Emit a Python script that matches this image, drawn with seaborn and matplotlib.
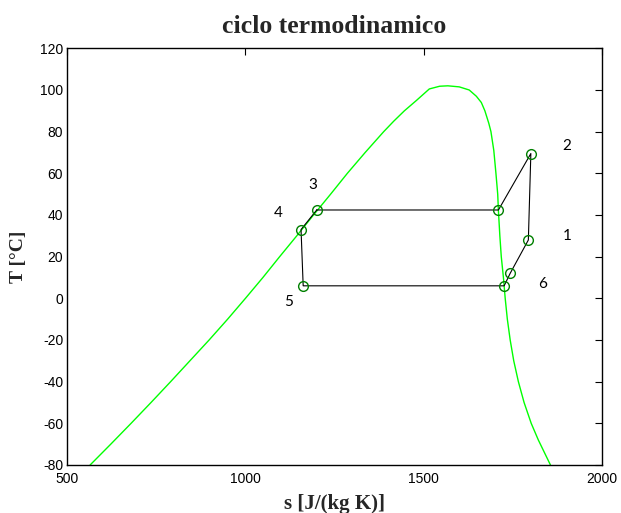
import matplotlib
matplotlib.use("Agg")
import matplotlib.pyplot as plt
import seaborn as sns

# saturation dome (R134a-like)
dome_s = [564, 622, 679, 735, 790, 844, 898, 950, 1000, 1049, 1096, 1144, 1191,
          1239, 1286, 1336, 1388, 1416, 1446, 1480, 1516, 1545, 1568, 1600, 1628,
          1648, 1662, 1672, 1683, 1689, 1697, 1703, 1708, 1710, 1714, 1718, 1724,
          1729, 1735, 1743, 1753, 1766, 1782, 1802, 1822, 1856]
dome_T = [-80, -70, -60, -50, -40, -30, -20, -10, 0, 10, 20, 30, 40,
          50, 60, 70, 80, 85, 90, 95, 100.5, 101.8, 102, 101.5, 100,
          97, 94, 90, 84, 80, 71, 60, 50, 42, 30, 20, 10,
          0, -10, -20, -30, -40, -50, -60, -68, -80]

# cycle points in drawing order (3 -> 3' -> 2 -> 1 -> 6 -> 5' -> 5 -> 4 -> 3)
cycle_s = [1200, 1710, 1801, 1794, 1743, 1726, 1162, 1156, 1200]
cycle_T = [42.4, 42.4, 69.5, 28, 12, 6, 6, 33, 42.4]

labels = ["1", "2", "3", "4", "5", "6"]
label_s = [1902, 1902, 1189, 1093, 1122, 1835]
label_T = [29.9, 73.1, 54.4, 41, -1.8, 6.9]

sns.set_style("white")
plt.rcParams["font.family"] = ["Liberation Sans", "DejaVu Sans"]
plt.rcParams["axes.unicode_minus"] = False

fig = plt.figure(figsize=(6.21, 5.13), dpi=100)
ax = fig.add_axes([0.1084, 0.0936, 0.8606, 0.8122])

sns.lineplot(x=dome_s, y=dome_T, sort=False, estimator=None, color="#00ff00",
             linewidth=1.0, ax=ax)
sns.lineplot(x=cycle_s, y=cycle_T, sort=False, estimator=None, color="black",
             linewidth=0.8, ax=ax)
ax.plot(cycle_s[:-1], cycle_T[:-1], linestyle="none", marker="o", markersize=7,
        markerfacecolor="none", markeredgecolor="#008000", markeredgewidth=1.0)

for lab, xs, yt in zip(labels, label_s, label_T):
    ax.text(xs, yt, lab, fontsize=11, family=["Lato", "DejaVu Sans"],
            ha="center", va="center", color="black")

ax.set_xlim(500, 2000)
ax.set_ylim(-80, 120)
ax.set_xticks([500, 1000, 1500, 2000])
ax.set_yticks(range(-80, 121, 20))
ax.tick_params(direction="in", length=5, width=0.8, top=True, right=True,
               labelsize=10, pad=3, colors="black")
ax.tick_params(axis="x", pad=5)
for sp in ax.spines.values():
    sp.set_visible(True)
    sp.set_color("black")
    sp.set_linewidth(1.0)

ax.set_title("ciclo termodinamico", fontsize=18.5, fontweight="bold",
             family=["Liberation Serif", "DejaVu Serif"], pad=11)
ax.set_xlabel("s [J/(kg K)]", fontsize=15, fontweight="bold",
              family=["Liberation Serif", "DejaVu Serif"], labelpad=6)
ax.set_ylabel("T [°C]", fontsize=14, fontweight="bold",
              family=["Liberation Serif", "DejaVu Serif"], labelpad=9)

fig.savefig("out.png", dpi=100, facecolor="white")
